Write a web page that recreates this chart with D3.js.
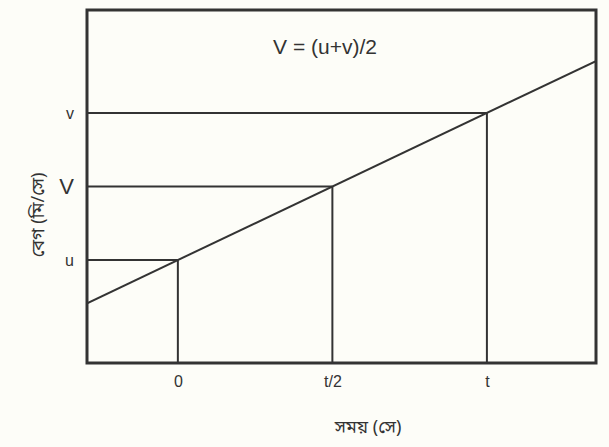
<!DOCTYPE html>
<html>
<head>
<meta charset="utf-8">
<script src="https://cdn.jsdelivr.net/npm/d3@7/dist/d3.min.js"></script>
<style>
  html, body { margin: 0; padding: 0; background: #fdfdf8; }
  svg { display: block; }
</style>
</head>
<body>
<svg id="chart" width="609" height="447"></svg>
<script>
// Data
const xTickValues = [0, 0.5, 1];
const xTickLabels = ["0", "t/2", "t"];
const yTickValues = [1, 2, 3];
const yTickLabels = ["u", "V", "v"];
const lineX = [-0.3, 1.36];            // time (fraction of t)
const lineIntercept = 1;               // u
const lineSlope = 2;                   // (v-u)/t
const title = "V = (u+v)/2";
const xLabel = "সময় (সে)";
const yLabel = "বেগ (মি/সে)";

const svg = d3.select("#chart");
const margin = { left: 87, right: 13, top: 10, bottom: 84 };
const W = 609, H = 447;

const x = d3.scaleLinear().domain([-0.294, 1.353]).range([margin.left, W - margin.right]);
const y = d3.scaleLinear().domain([-0.40, 4.40]).range([H - margin.bottom, margin.top]);

const ink = "#333";
const fontMain = "Arial, 'Liberation Sans', Helvetica, sans-serif";
const fontBn = "'Noto Sans Bengali', 'Noto Sans', 'Liberation Sans', sans-serif";

const g = svg.append("g");
const clipId = "plotclip";
svg.append("defs").append("clipPath").attr("id", clipId)
  .append("rect")
  .attr("x", margin.left).attr("y", margin.top)
  .attr("width", W - margin.left - margin.right)
  .attr("height", H - margin.top - margin.bottom);

// Guide lines from y-axis to the line and down to x-axis
xTickValues.forEach((tv, i) => {
  const yv = lineIntercept + lineSlope * tv;
  g.append("line")
    .attr("x1", x.range()[0]).attr("x2", x(tv))
    .attr("y1", y(yv)).attr("y2", y(yv))
    .attr("stroke", ink).attr("stroke-width", 2);
  g.append("line")
    .attr("x1", x(tv)).attr("x2", x(tv))
    .attr("y1", y(yv)).attr("y2", y.range()[0])
    .attr("stroke", ink).attr("stroke-width", 2);
});

// Main velocity line
const lineGen = d3.line().x(d => x(d)).y(d => y(lineIntercept + lineSlope * d));
g.append("path")
  .datum(lineX)
  .attr("d", lineGen)
  .attr("clip-path", `url(#${clipId})`)
  .attr("fill", "none")
  .attr("stroke", ink)
  .attr("stroke-width", 2);

// Frame
g.append("rect")
  .attr("x", x.range()[0]).attr("y", y.range()[1])
  .attr("width", x.range()[1] - x.range()[0])
  .attr("height", y.range()[0] - y.range()[1])
  .attr("fill", "none")
  .attr("stroke", "#333")
  .attr("stroke-width", 3);

// X axis tick labels
const xAxis = d3.axisBottom(x).tickValues(xTickValues)
  .tickFormat((d, i) => xTickLabels[i]).tickSize(0).tickPadding(13);
const xa = svg.append("g").attr("transform", `translate(0,${y.range()[0]})`).call(xAxis);
xa.select(".domain").remove();
xa.selectAll("text").attr("font-family", fontMain).attr("font-size", 16).attr("fill", "#333");

// Y axis tick labels
const yAxis = d3.axisLeft(y).tickValues(yTickValues)
  .tickFormat((d, i) => yTickLabels[i]).tickSize(0).tickPadding(13);
const ya = svg.append("g").attr("transform", `translate(${x.range()[0]},0)`).call(yAxis);
ya.select(".domain").remove();
ya.selectAll("text").attr("font-family", fontMain).attr("fill", "#333")
  .attr("font-size", (d, i) => yTickLabels[i] === "V" ? 22 : 16);

// Title
svg.append("text")
  .attr("x", 325).attr("y", 54)
  .attr("text-anchor", "middle")
  .attr("font-family", fontMain).attr("font-size", 21).attr("fill", "#333")
  .text(title);

// Axis labels
svg.append("text")
  .attr("x", 368).attr("y", 433)
  .attr("text-anchor", "middle")
  .attr("font-family", fontBn).attr("font-size", 18).attr("fill", "#333")
  .text(xLabel);

svg.append("text")
  .attr("transform", `translate(44,${215}) rotate(-90)`)
  .attr("text-anchor", "middle")
  .attr("font-family", fontBn).attr("font-size", 18).attr("fill", "#333")
  .text(yLabel);
</script>
</body>
</html>
